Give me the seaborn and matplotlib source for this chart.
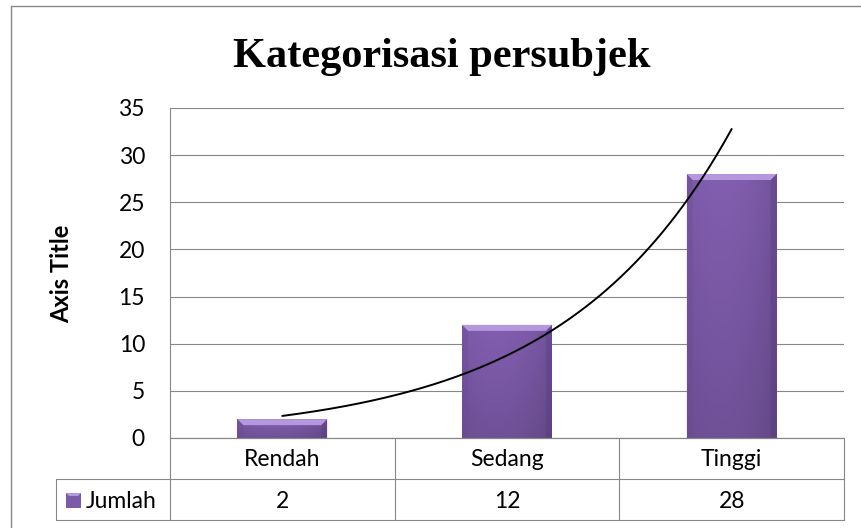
import numpy as np
import pandas as pd
import matplotlib
matplotlib.use("Agg")
import matplotlib.pyplot as plt
import seaborn as sns
from matplotlib.patches import Rectangle, Polygon
from matplotlib.lines import Line2D

# ---------------- data ----------------
categories = ["Rendah", "Sedang", "Tinggi"]
values = [2, 12, 28]
series_name = "Jumlah"
yticks = [0, 5, 10, 15, 20, 25, 30, 35]
title_text = "Kategorisasi persubjek"
axis_title = "Axis Title"

# ---------------- style ----------------
W, H = 862, 528
GRID = "#868686"
BAR = "#7b5aa8"
sns.set_theme(style="white")
plt.rcParams['font.family'] = ['Lato', 'DejaVu Sans']

fig = plt.figure(figsize=(W / 100, H / 100), dpi=100)
fig.patch.set_facecolor("white")


def fx(px):
    return px / W


def fy(py):
    return 1 - py / H


L, R, T, B = 170, 844, 108, 438
ax = fig.add_axes([fx(L), fy(B), fx(R - L), (B - T) / H])
df = pd.DataFrame({"cat": categories, "val": values})
sns.barplot(data=df, x="cat", y="val", color=BAR, width=0.4, ax=ax,
            saturation=1, edgecolor="none", zorder=2)

n = len(categories)
ax.set_xlim(-0.5, n - 0.5)
ax.set_ylim(yticks[0], yticks[-1])
ax.set_yticks(yticks)
ax.set_yticklabels([str(t) for t in yticks])
ax.yaxis.grid(True, color=GRID, lw=0.8)
ax.xaxis.grid(False)
ax.set_axisbelow(True)
ax.set_xticks([])
ax.set_xlabel("")
ax.set_ylabel("")
for s in ["top", "right"]:
    ax.spines[s].set_visible(False)
for s in ["left", "bottom"]:
    ax.spines[s].set_color(GRID)
    ax.spines[s].set_linewidth(0.8)
ax.tick_params(axis="y", length=0, pad=18, labelsize=16.5, labelcolor="black")

# ---------------- bevel / gradient on bars ----------------
dxp = (n) / (R - L)          # data units per px (x)
dyp = (yticks[-1] - yticks[0]) / (B - T)  # data units per px (y)
base = np.array([0.51, 0.37, 0.69])
bars = list(ax.patches)
for p in bars:
    x0, w, h = p.get_x(), p.get_width(), p.get_height()
    if h <= 0:
        continue
    u = np.linspace(0, 1, 60)[None, :]
    v = np.linspace(1, 0, 80)[:, None]
    hfac = 0.88 + 0.12 * (1 - ((u - 0.38) / 0.62) ** 2)
    vfac = 0.86 + 0.14 * v
    img = np.clip(base[None, None, :] * (hfac * vfac)[:, :, None], 0, 1)
    im = ax.imshow(img, extent=[x0, x0 + w, 0, h], aspect="auto",
                   zorder=2.1, interpolation="bilinear")
    im.set_clip_path(p)
    bx, by = 6 * dxp, 6 * dyp
    top = Polygon([[x0, h], [x0 + w, h], [x0 + w - bx, h - by], [x0 + bx, h - by]],
                  closed=True, facecolor="#b597de", edgecolor="none", zorder=2.3)
    ax.add_patch(top)
    lside = Polygon([[x0, h], [x0 + bx, h - by], [x0 + bx, 0], [x0, 0]],
                    closed=True, facecolor="#6a4b94", edgecolor="none", alpha=0.35, zorder=2.2)
    rside = Polygon([[x0 + w, h], [x0 + w - bx, h - by], [x0 + w - bx, 0], [x0 + w, 0]],
                    closed=True, facecolor="#553a7c", edgecolor="none", alpha=0.35, zorder=2.2)
    ax.add_patch(lside)
    ax.add_patch(rside)

# ---------------- exponential trendline ----------------
xi = np.arange(1, n + 1)
b, lna = np.polyfit(xi, np.log(values), 1)
xs = np.linspace(1, n, 200)
ys = np.exp(lna + b * xs)
sns.lineplot(x=xs - 1, y=ys, color="black", lw=1.4, ax=ax, zorder=4)
ax.set_xlim(-0.5, n - 0.5)
ax.set_ylim(yticks[0], yticks[-1])

# ---------------- data table ----------------
def cat_px(xd):
    disp = ax.transData.transform((xd, 0))
    return fig.transFigure.inverted().transform(disp)[0]


def fline(x0, y0, x1, y1, color=GRID, lw=0.8):
    fig.add_artist(Line2D([fx(x0), fx(x1)], [fy(y0), fy(y1)],
                          transform=fig.transFigure, color=color, lw=lw))


ROW1, ROW2, ROW3 = 438, 479, 520
LEFTCOL = 56
fline(L, ROW1, R, ROW1)
fline(LEFTCOL, ROW2, R, ROW2)
fline(LEFTCOL, ROW3, R, ROW3)
fline(LEFTCOL, ROW2, LEFTCOL, ROW3)
fline(L, ROW1, L, ROW3)
fline(R, ROW1, R, ROW3)
for k in range(1, n):
    xb = cat_px(k - 0.5)
    fig.add_artist(Line2D([xb, xb], [fy(ROW1), fy(ROW3)], transform=fig.transFigure,
                          color=GRID, lw=0.8))

for i, (c, val) in enumerate(zip(categories, values)):
    xc = cat_px(i)
    fig.text(xc, fy(466), c, ha="center", va="baseline", fontsize=16.5, color="black")
    fig.text(xc, fy(508), str(val), ha="center", va="baseline", fontsize=16.5, color="black")

# legend key
fig.add_artist(Rectangle((fx(66), fy(508)), fx(15), 15 / H, transform=fig.transFigure,
                         facecolor=BAR, edgecolor="none"))
fig.add_artist(Polygon([[fx(66), fy(493)], [fx(81), fy(493)], [fx(78), fy(496)], [fx(69), fy(496)]],
                       closed=True, transform=fig.transFigure, facecolor="#b597de", edgecolor="none"))
fig.text(fx(86), fy(508), series_name, ha="left", va="baseline", fontsize=16.5, color="black")

# ---------------- titles ----------------
fig.text(fx(442), fy(67), title_text, ha="center", va="baseline", fontsize=30.5,
         fontweight="bold", family=["Liberation Serif", "DejaVu Serif"], color="black")
fig.text(fx(62), fy(274), axis_title, ha="center", va="center", rotation=90,
         fontsize=17, fontweight="bold", color="black")

# ---------------- outer chart border ----------------
fline(11, 6, W + 5, 6, color="#888888", lw=1.0)
fline(11, 6, 11, H + 5, color="#888888", lw=1.0)

fig.savefig("out.png", dpi=100, facecolor="white")
